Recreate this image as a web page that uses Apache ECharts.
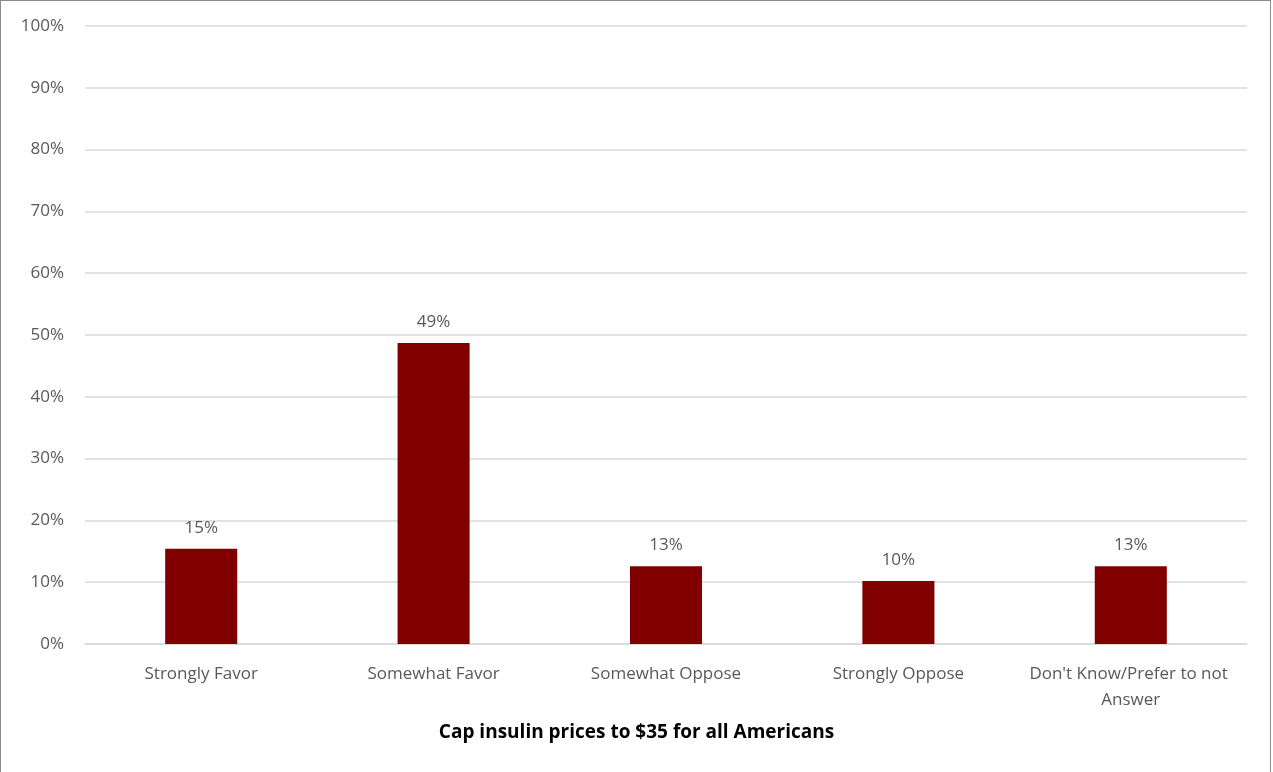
<!DOCTYPE html>
<html>
<head>
<meta charset="utf-8">
<script src="https://cdn.jsdelivr.net/npm/echarts@6/dist/echarts.min.js"></script>
<style>
html,body{margin:0;padding:0;background:#fff;}
#frame{position:absolute;left:0;top:0;width:1269px;height:780px;border:1px solid #8c8c8c;border-bottom:none;}
#chart{position:absolute;left:0;top:0;width:1273px;height:772px;}
</style>
</head>
<body>
<div id="frame"></div>
<div id="chart"></div>
<script>
const categories = ["Strongly Favor", "Somewhat Favor", "Somewhat Oppose", "Strongly Oppose", "Don't Know/Prefer to not Answer"];
const values = [15.4, 48.7, 12.6, 10.2, 12.6];
const yTicks = [0, 10, 20, 30, 40, 50, 60, 70, 80, 90, 100];
const chartTitle = "Cap insulin prices to $35 for all Americans";

const font = "'Open Sans', Lato, sans-serif";
const chart = echarts.init(document.getElementById('chart'));
chart.setOption({
  backgroundColor: 'transparent',
  animation: false,
  title: {
    text: chartTitle,
    left: 'center',
    top: 718,
    textStyle: {fontFamily: font, fontSize: 19, fontWeight: 'bold', color: '#000'}
  },
  grid: {left: 85, right: 26, top: 26, bottom: 128},
  xAxis: {
    type: 'category',
    data: categories,
    axisLine: {lineStyle: {color: '#d9d9d9', width: 1.5}},
    axisTick: {show: false},
    axisLabel: {
      color: '#595959', fontFamily: font, fontSize: 17, margin: 17,
      width: 225, overflow: 'break', lineHeight: 26, interval: 0
    }
  },
  yAxis: {
    type: 'value',
    min: yTicks[0], max: yTicks[yTicks.length - 1], interval: 10,
    axisLine: {show: false},
    axisTick: {show: false},
    splitLine: {lineStyle: {color: '#d9d9d9', width: 1.5}},
    axisLabel: {
      color: '#595959', fontFamily: font, fontSize: 17, margin: 21,
      formatter: v => v + '%'
    }
  },
  series: [{
    type: 'bar',
    data: values,
    barWidth: '31%',
    itemStyle: {color: '#800000'},
    label: {
      show: true, position: 'top', distance: 12,
      color: '#595959', fontFamily: font, fontSize: 17,
      formatter: p => Math.round(p.value) + '%'
    }
  }]
});
</script>
</body>
</html>
